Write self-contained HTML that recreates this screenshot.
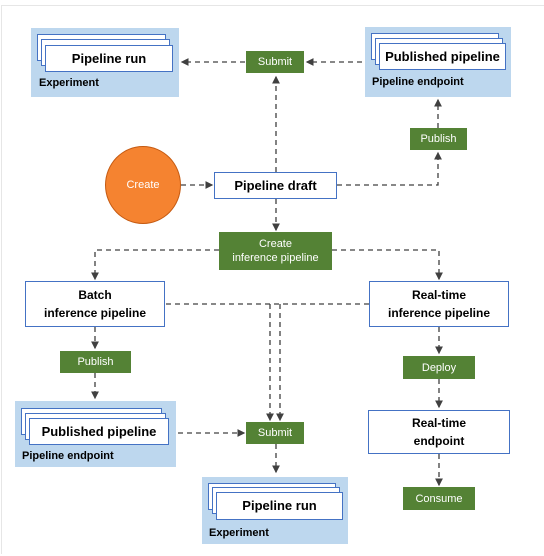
<!DOCTYPE html>
<html><head><meta charset="utf-8"><style>
body{margin:0;width:544px;height:556px;background:#fff;font-family:"Liberation Sans",sans-serif;position:relative;overflow:hidden}
.a{position:absolute;box-sizing:border-box}
.panel{background:#bdd7ee}
.wb{background:#fff;border:1.5px solid #4472c4;font-weight:bold;color:#000;display:flex;align-items:center;justify-content:center;text-align:center;line-height:18px}
.g{background:#548235;color:#fff;font-size:11px;display:flex;align-items:center;justify-content:center;text-align:center;line-height:14px}
.lbl{font-size:11px;font-weight:bold}
</style></head><body>
<div class="a" style="left:1px;top:5px;width:543px;height:549px;border-top:1px solid #e6e6e6;border-left:1px solid #e6e6e6"></div>
<svg class="a" style="left:0;top:0" width="544" height="556">
<defs><marker id="m" markerWidth="6" markerHeight="6" refX="5" refY="3" orient="auto"><path d="M0,0L6,3L0,6z" fill="#404040"/></marker></defs>
<g stroke="#404040" stroke-width="1.3" stroke-dasharray="5,4" fill="none" marker-end="url(#m)">
<path d="M245,62H182"/>
<path d="M362,62H307"/>
<path d="M276,172V77"/>
<path d="M438,128V100"/>
<path d="M337,185H438V153"/>
<path d="M181,185H212"/>
<path d="M276,199V230"/>
<path d="M219,250H95V279"/>
<path d="M332,250H439V279"/>
<path d="M95,327V348"/>
<path d="M95,373V398"/>
<path d="M166,304H369" marker-end="none"/>
<path d="M270,304V420"/>
<path d="M280,304V420"/>
<path d="M178,433H244"/>
<path d="M276,444V472"/>
<path d="M439,327V353"/>
<path d="M439,379V407"/>
<path d="M439,454V485"/>
</g></svg>

<div class="a panel" style="left:31px;top:28px;width:148px;height:69px"></div>
<div class="a wb" style="left:37px;top:34px;width:129px;height:27px"></div>
<div class="a wb" style="left:41px;top:39px;width:129px;height:27px"></div>
<div class="a wb" style="left:45px;top:45px;width:128px;height:27px;font-size:13px">Pipeline run</div>
<div class="a lbl" style="left:39px;top:77px">Experiment</div>

<div class="a g" style="left:246px;top:51px;width:58px;height:22px">Submit</div>

<div class="a panel" style="left:365px;top:27px;width:146px;height:70px"></div>
<div class="a wb" style="left:371px;top:33px;width:128px;height:27px"></div>
<div class="a wb" style="left:375px;top:38px;width:128px;height:27px"></div>
<div class="a wb" style="left:379px;top:43px;width:127px;height:27px;font-size:13px">Published pipeline</div>
<div class="a lbl" style="left:372px;top:76px">Pipeline endpoint</div>

<div class="a g" style="left:410px;top:128px;width:57px;height:22px">Publish</div>

<div class="a" style="left:105px;top:146px;width:76px;height:78px;border-radius:50%;background:#f58330;border:1px solid #c55a11;color:#fff;font-size:11px;display:flex;align-items:center;justify-content:center">Create</div>
<div class="a wb" style="left:214px;top:172px;width:123px;height:27px;font-size:13px">Pipeline draft</div>
<div class="a g" style="left:219px;top:232px;width:113px;height:38px">Create<br>inference pipeline</div>

<div class="a wb" style="left:25px;top:281px;width:140px;height:46px;font-size:12px">Batch<br>inference pipeline</div>
<div class="a wb" style="left:369px;top:281px;width:140px;height:46px;font-size:12px">Real-time<br>inference pipeline</div>

<div class="a g" style="left:60px;top:351px;width:71px;height:22px">Publish</div>

<div class="a panel" style="left:15px;top:401px;width:161px;height:66px"></div>
<div class="a wb" style="left:21px;top:408px;width:141px;height:27px"></div>
<div class="a wb" style="left:25px;top:413px;width:141px;height:27px"></div>
<div class="a wb" style="left:29px;top:418px;width:140px;height:27px;font-size:13px">Published pipeline</div>
<div class="a lbl" style="left:22px;top:450px">Pipeline endpoint</div>

<div class="a g" style="left:246px;top:422px;width:58px;height:22px">Submit</div>

<div class="a panel" style="left:202px;top:477px;width:146px;height:67px"></div>
<div class="a wb" style="left:208px;top:483px;width:128px;height:27px"></div>
<div class="a wb" style="left:212px;top:487px;width:128px;height:27px"></div>
<div class="a wb" style="left:216px;top:492px;width:127px;height:28px;font-size:13px">Pipeline run</div>
<div class="a lbl" style="left:209px;top:527px">Experiment</div>

<div class="a g" style="left:403px;top:356px;width:72px;height:23px">Deploy</div>
<div class="a wb" style="left:368px;top:410px;width:142px;height:44px;font-size:12px">Real-time<br>endpoint</div>
<div class="a g" style="left:403px;top:487px;width:72px;height:23px">Consume</div>
</body></html>
